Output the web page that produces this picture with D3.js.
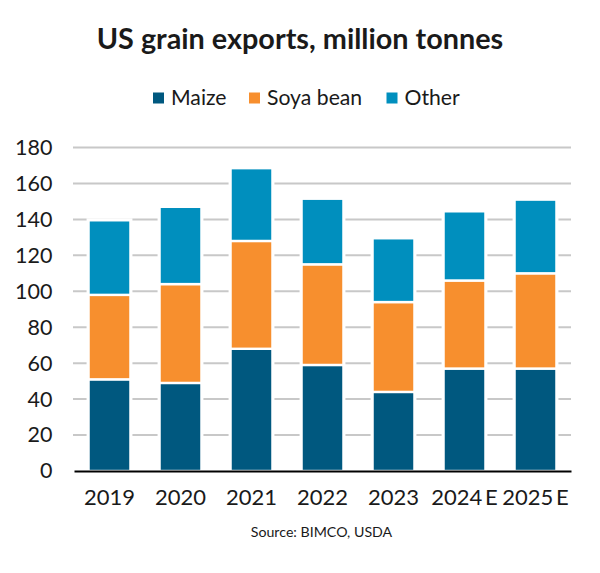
<!DOCTYPE html>
<html lang="en">
<head>
<meta charset="UTF-8">
<title>US grain exports</title>
<script src="https://d3js.org/d3.v7.min.js"></script>
<style>
  html, body { margin: 0; padding: 0; background: #fff; }
  svg { display: block; }
  text { font-family: Lato, "Open Sans", sans-serif; fill: #1a1a1a; }
</style>
</head>
<body>
<svg id="chart" width="600" height="573"></svg>
<script>
const years = ["2019", "2020", "2021", "2022", "2023", "2024 E", "2025 E"];
const maize = [51, 49, 68, 59, 44, 57, 57];
const soya = [47, 55, 60, 56, 50, 49, 53];
const other = [41.5, 43, 40.5, 36.5, 35.5, 38.5, 41];
const seriesNames = ["Maize", "Soya bean", "Other"];
const seriesColors = ["#00587f", "#f78f2e", "#008fbe"];
const yTicks = [0, 20, 40, 60, 80, 100, 120, 140, 160, 180];

const svg = d3.select("#chart");

const x = d3.scaleBand().domain(years).range([74, 571]).paddingInner(0.41).paddingOuter(0.205);
const y = d3.scaleLinear().domain([0, 180]).range([471, 147.5]);

// gridlines
svg.append("g").selectAll("line")
  .data(yTicks.filter(d => d > 0))
  .join("line")
  .attr("x1", 73).attr("x2", 571)
  .attr("y1", d => y(d)).attr("y2", d => y(d))
  .attr("stroke", "#c8c8c8").attr("stroke-width", 2);

// stacked bars
const rows = years.map((yr, i) => ({ year: yr, Maize: maize[i], "Soya bean": soya[i], Other: other[i] }));
const stacked = d3.stack().keys(seriesNames)(rows);

// white halo behind each stack, breaks the gridlines either side of the bars
svg.append("g").selectAll("rect")
  .data(rows)
  .join("rect")
  .attr("x", d => x(d.year) - 2)
  .attr("width", x.bandwidth() + 4)
  .attr("y", d => y(d.Maize + d["Soya bean"] + d.Other) - 2)
  .attr("height", d => y(0) - y(d.Maize + d["Soya bean"] + d.Other) + 2)
  .attr("fill", "#fff");

svg.append("g").selectAll("g")
  .data(stacked)
  .join("g")
  .attr("fill", (d, i) => seriesColors[i])
  .selectAll("rect")
  .data(d => d)
  .join("rect")
  .attr("x", d => x(d.data.year))
  .attr("width", x.bandwidth())
  .attr("y", d => y(d[1]))
  .attr("height", d => y(d[0]) - y(d[1]))
  .attr("stroke", "#fff")
  .attr("stroke-width", 2.4);

// x axis
const xAxis = svg.append("g")
  .attr("transform", "translate(0,471)")
  .call(d3.axisBottom(x).tickSize(0).tickPadding(18));
xAxis.select(".domain").attr("stroke", "#000").attr("stroke-width", 2);
xAxis.selectAll("text").style("font-size", "22px").style("font-family", "Lato").style("word-spacing", "-3px");

// y axis labels
const yAxis = svg.append("g")
  .attr("transform", "translate(52.5,0)")
  .call(d3.axisLeft(y).tickValues(yTicks).tickSize(0).tickPadding(0));
yAxis.select(".domain").remove();
yAxis.selectAll("text").style("font-size", "21.5px").style("font-family", "Lato");

// title
svg.append("text")
  .attr("x", 300).attr("y", 49)
  .attr("text-anchor", "middle")
  .style("font-size", "28.8px").style("font-weight", 700)
  .text("US grain exports, million tonnes");

// legend
const legendX = [153, 249, 386.5];
const legend = svg.append("g").selectAll("g")
  .data(seriesNames)
  .join("g")
  .attr("transform", (d, i) => `translate(${legendX[i]},92.5)`);
legend.append("rect")
  .attr("width", 11).attr("height", 11)
  .attr("fill", (d, i) => seriesColors[i]);
legend.append("text")
  .attr("x", 18).attr("y", 12)
  .style("font-size", "21.2px")
  .text(d => d);

// source
svg.append("text")
  .attr("x", 321.5).attr("y", 537)
  .attr("text-anchor", "middle")
  .style("font-size", "14.2px")
  .text("Source: BIMCO, USDA");
</script>
</body>
</html>
